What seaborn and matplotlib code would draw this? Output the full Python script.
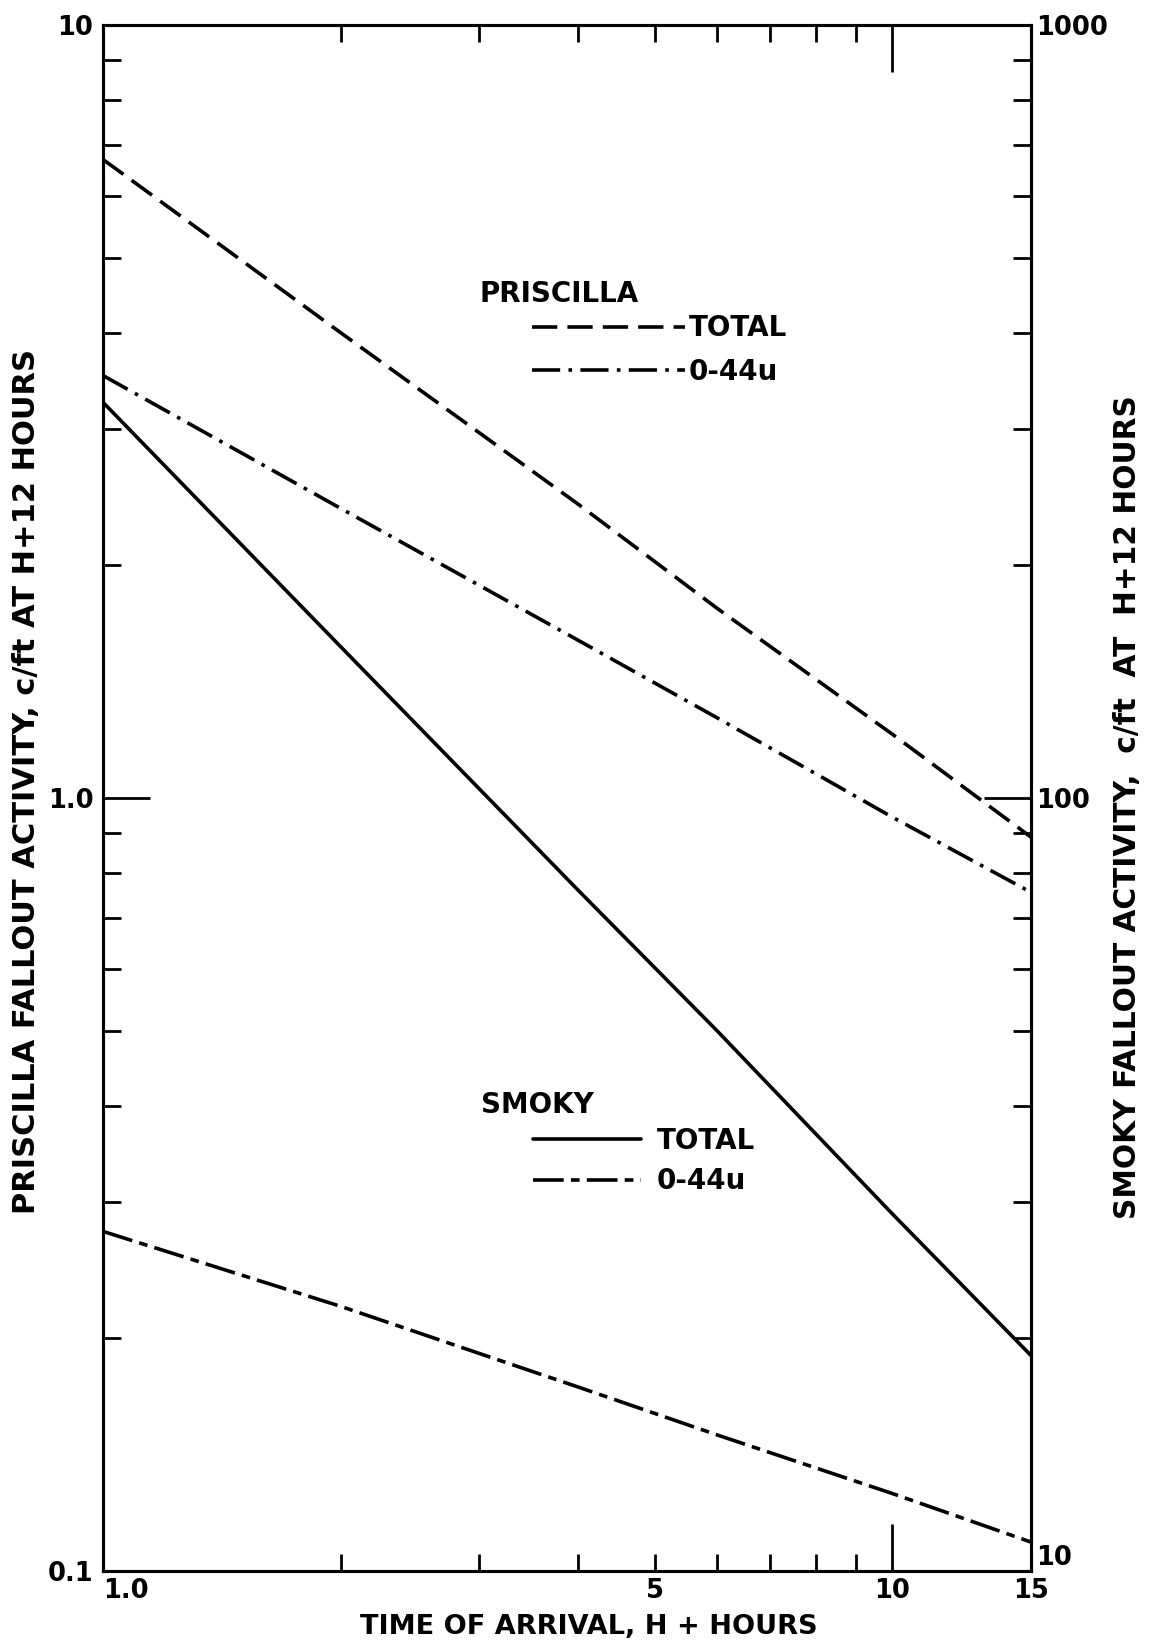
import numpy as np
import pandas as pd
import matplotlib
matplotlib.use("Agg")
import matplotlib.pyplot as plt
import seaborn as sns
from matplotlib.lines import Line2D
from matplotlib.ticker import FixedLocator, FixedFormatter, NullFormatter

# ---------------- data ----------------
hours = [1.0, 2.0, 4.0, 6.0, 10.0, 15.0]
priscilla_total = [6.7, 4.0, 2.4, 1.76, 1.21, 0.89]      # left axis
priscilla_044 = [3.52, 2.37, 1.60, 1.27, 0.945, 0.755]   # left axis
smoky_total = [325, 157, 76, 50, 29, 19]                 # right axis
smoky_044 = [27.5, 22.0, 17.3, 15.0, 12.6, 10.9]         # right axis

x_major_ticks = [1.0, 10.0]
x_major_labels = ["1.0", "10"]
x_minor_ticks = [2, 3, 4, 5, 6, 7, 8, 9, 15]
x_minor_labels = ["", "", "", "5", "", "", "", "", "15"]
left_ticks = [0.1, 1.0, 10.0]
left_labels = ["0.1", "1.0", "10"]
right_ticks = [10, 100, 1000]
right_labels = ["10", "100", "1000"]
minor_mult = [2, 3, 4, 5, 6, 7, 8, 9]

xlabel = "TIME OF ARRIVAL, H + HOURS"
ylabel_left = "PRISCILLA FALLOUT ACTIVITY, c/ft AT H+12 HOURS"
ylabel_right = "SMOKY FALLOUT ACTIVITY,  c/ft  AT  H+12 HOURS"

# ---------------- style ----------------
sns.set_theme(style="white")
plt.rcParams["font.family"] = ["DejaVu Sans"]
plt.rcParams["font.weight"] = "bold"
for k in ("text.color", "axes.labelcolor", "xtick.color", "ytick.color", "axes.edgecolor"):
    plt.rcParams[k] = "black"

W, H = 1153, 1645
fig = plt.figure(figsize=(W / 100, H / 100), dpi=100)
fig.patch.set_facecolor("white")

ax_l, ax_r, ax_t, ax_b = 103, 1031, 25, 1571
ax = fig.add_axes([ax_l / W, 1 - ax_b / H, (ax_r - ax_l) / W, (ax_b - ax_t) / H])
ax2 = ax.twinx()

LW = 2.6
dash_p_total = (7.0, 2.8)
dash_p_044 = (7.8, 2.3, 1.0, 2.3)
dash_s_total = ""
dash_s_044 = (8.5, 2.0, 2.4, 2.0)

dfp = pd.DataFrame({
    "hours": hours * 2,
    "activity": priscilla_total + priscilla_044,
    "series": ["P total"] * len(hours) + ["P 044"] * len(hours),
})
dfs = pd.DataFrame({
    "hours": hours * 2,
    "activity": smoky_total + smoky_044,
    "series": ["S total"] * len(hours) + ["S 044"] * len(hours),
})

sns.lineplot(data=dfp, x="hours", y="activity", style="series",
             dashes={"P total": dash_p_total, "P 044": dash_p_044},
             color="black", lw=LW, ax=ax, legend=False)
sns.lineplot(data=dfs, x="hours", y="activity", style="series",
             dashes={"S total": dash_s_total, "S 044": dash_s_044},
             color="black", lw=LW, ax=ax2, legend=False)

for a in (ax, ax2):
    a.set_xscale("log")
    a.set_yscale("log")
ax.set_xlim(1.0, 15.0)
ax.set_ylim(0.1, 10.0)
ax2.set_ylim(10, 1000)

# x ticks
ax.xaxis.set_major_locator(FixedLocator(x_major_ticks))
ax.xaxis.set_major_formatter(FixedFormatter(x_major_labels))
ax.xaxis.set_minor_locator(FixedLocator(x_minor_ticks))
ax.xaxis.set_minor_formatter(FixedFormatter(x_minor_labels))

# left y ticks
ax.yaxis.set_major_locator(FixedLocator(left_ticks))
ax.yaxis.set_major_formatter(FixedFormatter(left_labels))
ax.yaxis.set_minor_locator(FixedLocator([m * d for d in (0.1, 1.0) for m in minor_mult]))
ax.yaxis.set_minor_formatter(NullFormatter())

# right y ticks
ax2.yaxis.set_major_locator(FixedLocator(right_ticks))
ax2.yaxis.set_major_formatter(FixedFormatter(right_labels))
ax2.yaxis.set_minor_locator(FixedLocator([m * d for d in (10, 100) for m in minor_mult]))
ax2.yaxis.set_minor_formatter(NullFormatter())

TICKFS = 18.5
ax.tick_params(axis="x", which="both", direction="in", top=True, bottom=True,
               width=2.0, color="black", labelsize=TICKFS, pad=5, labelcolor="black")
ax.tick_params(axis="x", which="major", length=34)
ax.tick_params(axis="x", which="minor", length=12)
ax.tick_params(axis="y", which="both", direction="in", left=True, right=False,
               width=2.0, color="black", labelsize=TICKFS, pad=7, labelcolor="black")
ax.tick_params(axis="y", which="major", length=34)
ax.tick_params(axis="y", which="minor", length=13)
ax2.tick_params(axis="y", which="both", direction="in", right=True, left=False,
                width=2.0, color="black", labelsize=TICKFS, pad=4, labelcolor="black")
ax2.tick_params(axis="y", which="major", length=34)
ax2.tick_params(axis="y", which="minor", length=13)

# corner tick labels: keep them apart like the reference
ax.xaxis.get_major_ticks()[0].label1.set_horizontalalignment("left")
ax2.yaxis.get_major_ticks()[0].label2.set_verticalalignment("bottom")

for a in (ax, ax2):
    for s in a.spines.values():
        s.set_color("black")
        s.set_linewidth(2.2)
ax.grid(False)
ax2.grid(False)

# axis labels
ax.set_xlabel(xlabel, fontsize=19.5, fontweight="bold", color="black")
ax.xaxis.set_label_coords((589 - ax_l) / (ax_r - ax_l), (ax_b - 1627) / (ax_b - ax_t))
ax.xaxis.label.set_verticalalignment("center")

ax.set_ylabel(ylabel_left, fontsize=22, fontweight="bold", color="black")
ax.yaxis.set_label_coords((27 - ax_l) / (ax_r - ax_l), (ax_b - 782) / (ax_b - ax_t))
ax.yaxis.label.set_verticalalignment("center")

ax2.set_ylabel(ylabel_right, fontsize=21.3, fontweight="bold", rotation=90, color="black")
ax2.yaxis.set_label_coords((1128 - ax_l) / (ax_r - ax_l), (ax_b - 807) / (ax_b - ax_t))
ax2.yaxis.label.set_verticalalignment("center")

# group titles
GFS = 20
fig.text(480 / W, 1 - 294 / H, "PRISCILLA", fontsize=GFS, fontweight="bold",
         ha="left", va="center", color="black")
fig.text(481 / W, 1 - 1105 / H, "SMOKY", fontsize=GFS, fontweight="bold",
         ha="left", va="center", color="black")

# legends
h_pt = Line2D([], [], color="black", lw=LW, dashes=dash_p_total)
h_p44 = Line2D([], [], color="black", lw=LW, dashes=dash_p_044)
h_st = Line2D([], [], color="black", lw=LW)
h_s44 = Line2D([], [], color="black", lw=LW, dashes=dash_s_044)

leg1 = ax2.legend([h_pt, h_p44], ["TOTAL", "0-44u"], loc="center left",
                  bbox_to_anchor=(532 / W, 1 - 350 / H), bbox_transform=fig.transFigure,
                  frameon=False, borderpad=0, borderaxespad=0,
                  handlelength=5.5, handletextpad=0.15, labelspacing=0.55,
                  prop={"size": GFS, "weight": "bold"})
for t in leg1.get_texts():
    t.set_color("black")
ax2.add_artist(leg1)
leg2 = ax2.legend([h_st, h_s44], ["TOTAL", "0-44u"], loc="center left",
                  bbox_to_anchor=(533 / W, 1 - 1161 / H), bbox_transform=fig.transFigure,
                  frameon=False, borderpad=0, borderaxespad=0,
                  handlelength=3.9, handletextpad=0.55, labelspacing=0.45,
                  prop={"size": GFS, "weight": "bold"})
for t in leg2.get_texts():
    t.set_color("black")

fig.savefig("out.png", dpi=100, facecolor="white")
